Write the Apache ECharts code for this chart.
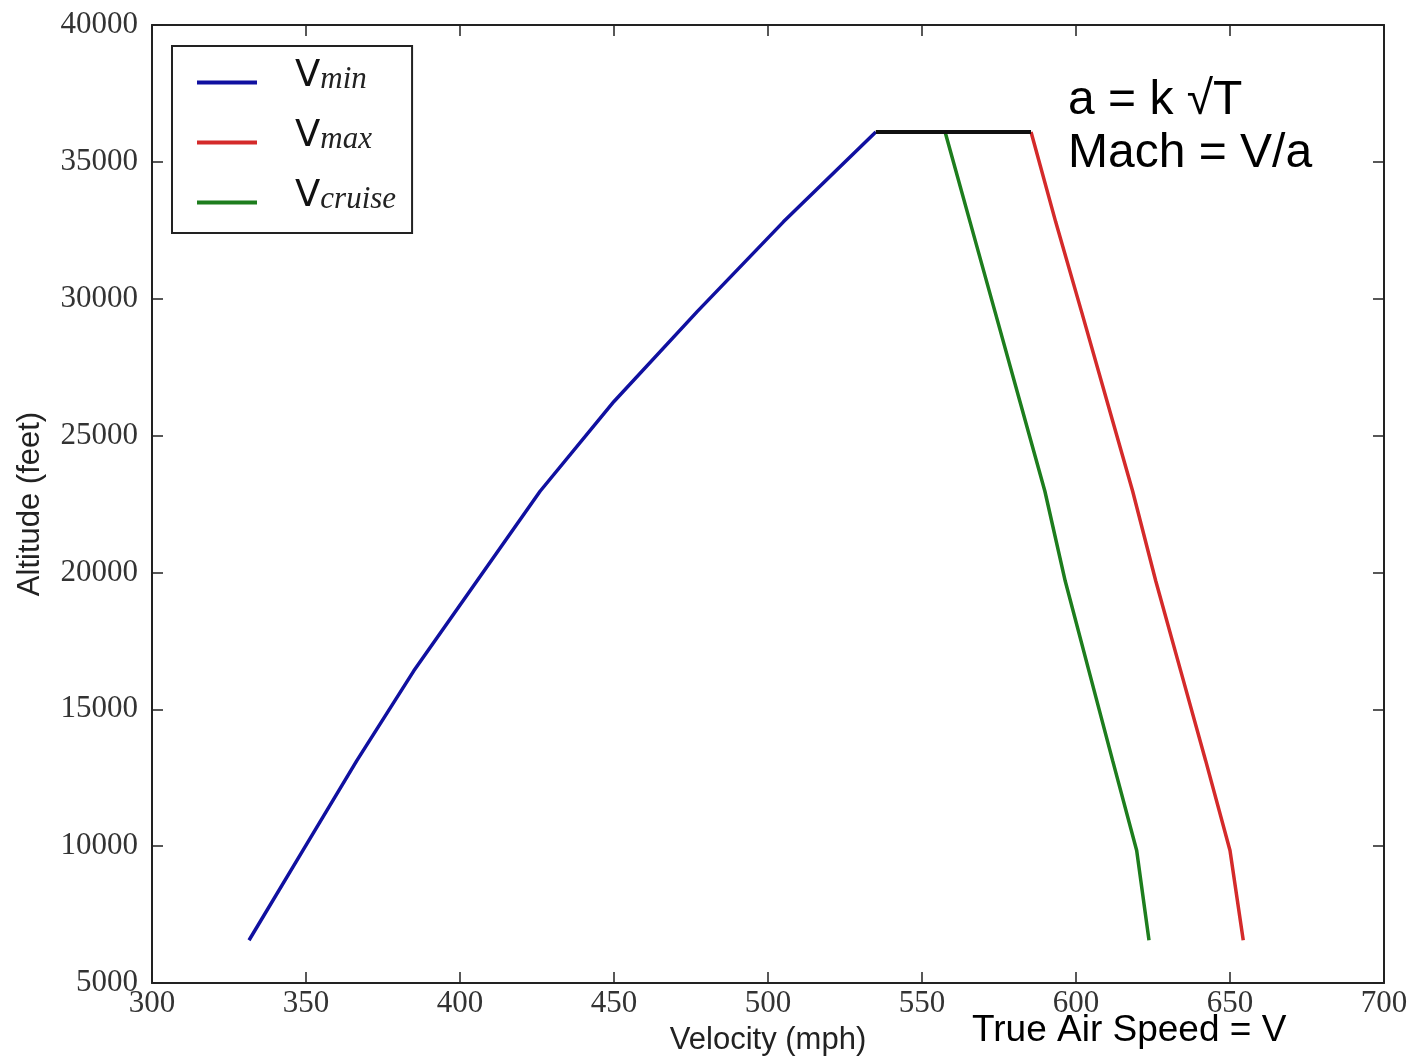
<!DOCTYPE html>
<html>
<head>
<meta charset="utf-8">
<script src="https://cdn.jsdelivr.net/npm/echarts@6/dist/echarts.min.js"></script>
<style>
  html, body { margin: 0; padding: 0; background: #ffffff; }
  #chart { width: 1414px; height: 1061px; }
</style>
</head>
<body>
<div id="chart"></div>
<script>
// Altitude samples (feet) – 2 km to 11 km in 1 km steps
const altitudeFt = [6562, 9843, 13123, 16404, 19685, 22966, 26247, 29528, 32808, 36089];
// Speeds (mph) at each altitude
const vMin    = [331.5, 349.0, 366.5, 385.0, 405.5, 426.0, 450.0, 477.0, 505.0, 535.0];
const vMax    = [654.3, 650.0, 642.1, 634.0, 625.9, 618.4, 610.1, 601.8, 593.4, 585.4];
const vCruise = [623.7, 619.7, 611.9, 604.2, 596.5, 589.9, 581.8, 573.7, 565.6, 557.5];

// Axis ranges and tick steps
const velocityRange = [300, 700];
const velocityStep = 50;
const altitudeRange = [5000, 40000];
const altitudeStep = 5000;

const seriesNames = ['Vmin', 'Vmax', 'Vcruise'];
const seriesColors = ['#1010a0', '#d42a2a', '#1d7d1d'];

const toPairs = (speeds) => speeds.map((v, i) => [v, altitudeFt[i]]);
const lastIdx = altitudeFt.length - 1;
// Ceiling segment joining Vmin and Vmax at the top altitude
const ceilingLine = [[vMin[lastIdx], altitudeFt[lastIdx]], [vMax[lastIdx], altitudeFt[lastIdx]]];

const axisColor = '#222';
const tickFont = 'Liberation Serif';
const labelFont = 'Liberation Sans';
const plainNumber = (v) => String(v);

function xAxisCfg(position, showLabels) {
  return {
    type: 'value', position: position,
    min: velocityRange[0], max: velocityRange[1], interval: velocityStep,
    axisLine: { show: true, onZero: false, lineStyle: { color: axisColor, width: 2 } },
    axisTick: { show: true, inside: true, length: 11, lineStyle: { color: axisColor, width: 1.5 } },
    splitLine: { show: false },
    axisLabel: showLabels ? {
      show: true, margin: 5, fontFamily: tickFont, fontSize: 31, color: '#333',
      formatter: plainNumber
    } : { show: false },
    name: showLabels ? 'Velocity (mph)' : '',
    nameLocation: 'middle', nameGap: 42,
    nameTextStyle: { fontFamily: labelFont, fontSize: 31, color: '#222' }
  };
}
function yAxisCfg(position, showLabels) {
  return {
    type: 'value', position: position,
    min: altitudeRange[0], max: altitudeRange[1], interval: altitudeStep,
    axisLine: { show: true, onZero: false, lineStyle: { color: axisColor, width: 2 } },
    axisTick: { show: true, inside: true, length: 11, lineStyle: { color: axisColor, width: 1.5 } },
    splitLine: { show: false },
    axisLabel: showLabels ? {
      show: true, margin: 14, fontFamily: tickFont, fontSize: 31, color: '#333',
      padding: [0, 0, 5, 0], formatter: plainNumber
    } : { show: false },
    name: showLabels ? 'Altitude (feet)' : '',
    nameLocation: 'middle', nameGap: 106,
    nameTextStyle: { fontFamily: labelFont, fontSize: 31, color: '#222' }
  };
}

const chart = echarts.init(document.getElementById('chart'), null, { renderer: 'canvas' });

const lineSeries = [vMin, vMax, vCruise].map((speeds, i) => ({
  name: seriesNames[i],
  type: 'line',
  data: toPairs(speeds),
  symbol: 'none',
  showSymbol: false,
  smooth: false,
  lineStyle: { color: seriesColors[i], width: 3.5 },
  itemStyle: { color: seriesColors[i] },
  z: 3
}));

lineSeries.push({
  name: 'ceiling',
  type: 'line',
  data: ceilingLine,
  symbol: 'none',
  showSymbol: false,
  lineStyle: { color: '#111', width: 4 },
  z: 4
});

chart.setOption({
  backgroundColor: '#ffffff',
  animation: false,
  grid: { left: 152, right: 30, top: 25, bottom: 78, containLabel: false, outerBoundsMode: 'none' },
  xAxis: [xAxisCfg('bottom', true), xAxisCfg('top', false)],
  yAxis: [yAxisCfg('left', true), yAxisCfg('right', false)],
  legend: {
    data: seriesNames,
    orient: 'vertical',
    left: 172, top: 46,
    padding: [12, 16, 18, 25],
    itemGap: 23,
    itemWidth: 60, itemHeight: 4,
    icon: 'rect',
    borderColor: '#222', borderWidth: 2,
    backgroundColor: '#ffffff',
    selectedMode: false,
    formatter: (name) => '{v|V}{s|' + name.slice(1) + '}',
    textStyle: {
      padding: [0, 0, 18, 33],
      rich: {
        v: { fontFamily: 'DejaVu Sans', fontSize: 37, lineHeight: 43, verticalAlign: 'bottom', color: '#111' },
        s: { fontFamily: 'Liberation Serif', fontStyle: 'italic', fontSize: 31, lineHeight: 31, verticalAlign: 'bottom', color: '#222' }
      }
    }
  },
  graphic: [
    { type: 'text', left: 1068, top: 77,
      style: { text: 'a = k \u221AT', font: '48px "Liberation Sans"', fill: '#000' } },
    { type: 'text', left: 1068, top: 130,
      style: { text: 'Mach = V/a', font: '48px "Liberation Sans"', fill: '#000' } },
    { type: 'text', left: 972, top: 1012,
      style: { text: 'True Air Speed = V', font: '37px "Liberation Sans"', fill: '#000' } }
  ],
  series: lineSeries
});
</script>
</body>
</html>
